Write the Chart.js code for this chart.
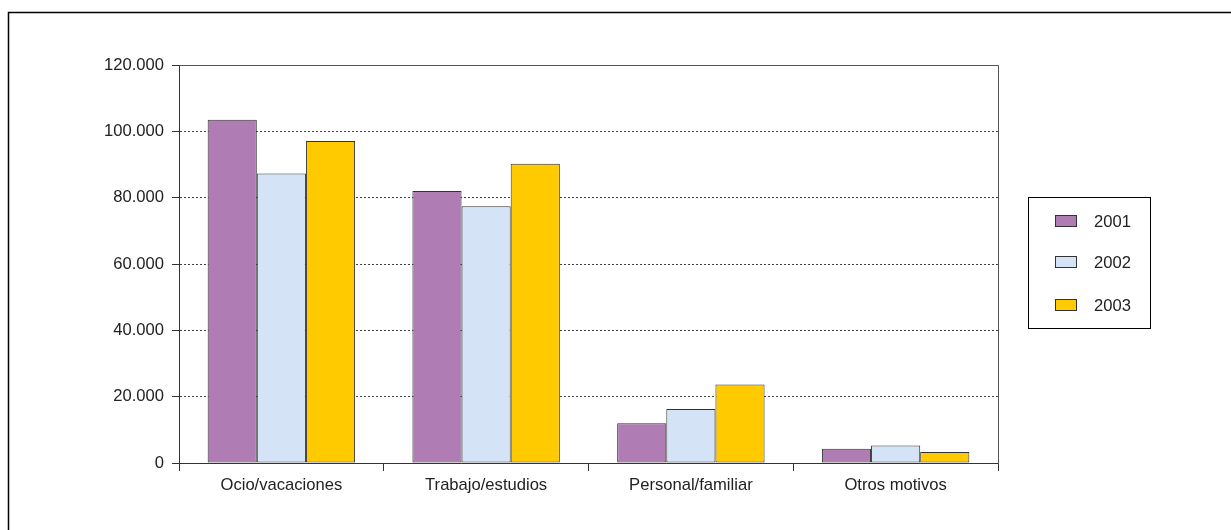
<!DOCTYPE html>
<html>
<head>
<meta charset="utf-8">
<script src="https://cdn.jsdelivr.net/npm/chart.js@4/dist/chart.umd.min.js"></script>
<style>
  html, body { margin: 0; padding: 0; background: #fff; }
  #wrap { width: 1231px; height: 530px; position: relative; }
</style>
</head>
<body>
<div id="wrap"><canvas id="c" width="1231" height="530"></canvas></div>
<script>
const categories = ['Ocio/vacaciones', 'Trabajo/estudios', 'Personal/familiar', 'Otros motivos'];
const seriesNames = ['2001', '2002', '2003'];
const values2001 = [103500, 82000, 12000, 4300];
const values2002 = [87300, 77400, 16300, 5300];
const values2003 = [97100, 90200, 23700, 3300];
const seriesColors = ['#B07CB4', '#D4E3F5', '#FFCB00'];
const yMax = 120000;
const yStep = 20000;

function fmt(v) {
  return String(v).replace(/\B(?=(\d{3})+(?!\d))/g, '.');
}

const FONT = "'Liberation Sans', Arial, sans-serif";
const FSIZE = 16.6;

const framePlugin = {
  id: 'frame',
  beforeDraw(chart) {
    const ctx = chart.ctx;
    ctx.save();
    ctx.fillStyle = '#fff';
    ctx.fillRect(0, 0, chart.width, chart.height);
    ctx.strokeStyle = '#000';
    ctx.lineWidth = 1.5;
    ctx.beginPath();
    ctx.moveTo(8.5, chart.height);
    ctx.lineTo(8.5, 12.5);
    ctx.lineTo(chart.width, 12.5);
    ctx.stroke();
    ctx.restore();
  },
  beforeDatasetsDraw(chart) {
    const a = chart.chartArea;
    const ctx = chart.ctx;
    ctx.save();
    ctx.strokeStyle = '#555';
    ctx.lineWidth = 1;
    ctx.beginPath();
    ctx.moveTo(Math.round(a.left) + 0.5, Math.round(a.top) + 0.5);
    ctx.lineTo(Math.round(a.right) + 0.5, Math.round(a.top) + 0.5);
    ctx.lineTo(Math.round(a.right) + 0.5, Math.round(a.bottom) + 0.5);
    ctx.stroke();
    ctx.restore();
  }
};

const legendPlugin = {
  id: 'boxLegend',
  afterDraw(chart) {
    const ctx = chart.ctx;
    ctx.save();
    ctx.strokeStyle = '#000';
    ctx.lineWidth = 1;
    ctx.strokeRect(1028.5, 197.5, 122, 131);
    const rows = [221, 262, 305];
    ctx.font = FSIZE + 'px ' + FONT;
    ctx.textBaseline = 'middle';
    ctx.textAlign = 'left';
    chart.data.datasets.forEach((ds, i) => {
      const y = rows[i];
      ctx.fillStyle = ds.backgroundColor;
      ctx.fillRect(1055.5, y - 5.5, 21, 11);
      ctx.strokeStyle = '#333';
      ctx.strokeRect(1055.5, y - 5.5, 21, 11);
      ctx.fillStyle = '#222';
      ctx.fillText(ds.label, 1094, y + 1);
    });
    ctx.restore();
  }
};

const allValues = [values2001, values2002, values2003];

new Chart(document.getElementById('c'), {
  type: 'bar',
  data: {
    labels: categories,
    datasets: seriesNames.map((name, i) => ({
      label: name,
      data: allValues[i],
      backgroundColor: seriesColors[i],
      borderColor: '#333',
      borderWidth: 1,
      borderSkipped: false,
      categoryPercentage: 0.72,
      barPercentage: 1.0
    }))
  },
  options: {
    responsive: false,
    animation: false,
    devicePixelRatio: 1,
    layout: { padding: { top: 65, right: 233, bottom: 0, left: 0 } },
    plugins: {
      legend: { display: false },
      tooltip: { enabled: false }
    },
    scales: {
      x: {
        afterFit(scale) { scale.height = 67; },
        grid: {
          offset: true,
          drawOnChartArea: false,
          drawTicks: true,
          tickLength: 8,
          color: '#333',
          tickColor: '#333'
        },
        border: { display: true, color: '#333', width: 1 },
        ticks: {
          padding: 4,
          color: '#222',
          font: { family: FONT, size: FSIZE }
        }
      },
      y: {
        min: 0,
        max: yMax,
        afterFit(scale) { scale.width = 179; },
        grid: {
          color: '#444',
          tickLength: 7,
          tickColor: '#333',
          tickBorderDash: []
        },
        border: { display: true, color: '#333', width: 1, dash: [2, 2] },
        ticks: {
          stepSize: yStep,
          padding: 8,
          color: '#222',
          font: { family: FONT, size: FSIZE },
          callback: (v) => fmt(v)
        }
      }
    }
  },
  plugins: [framePlugin, legendPlugin]
});
</script>
</body>
</html>
